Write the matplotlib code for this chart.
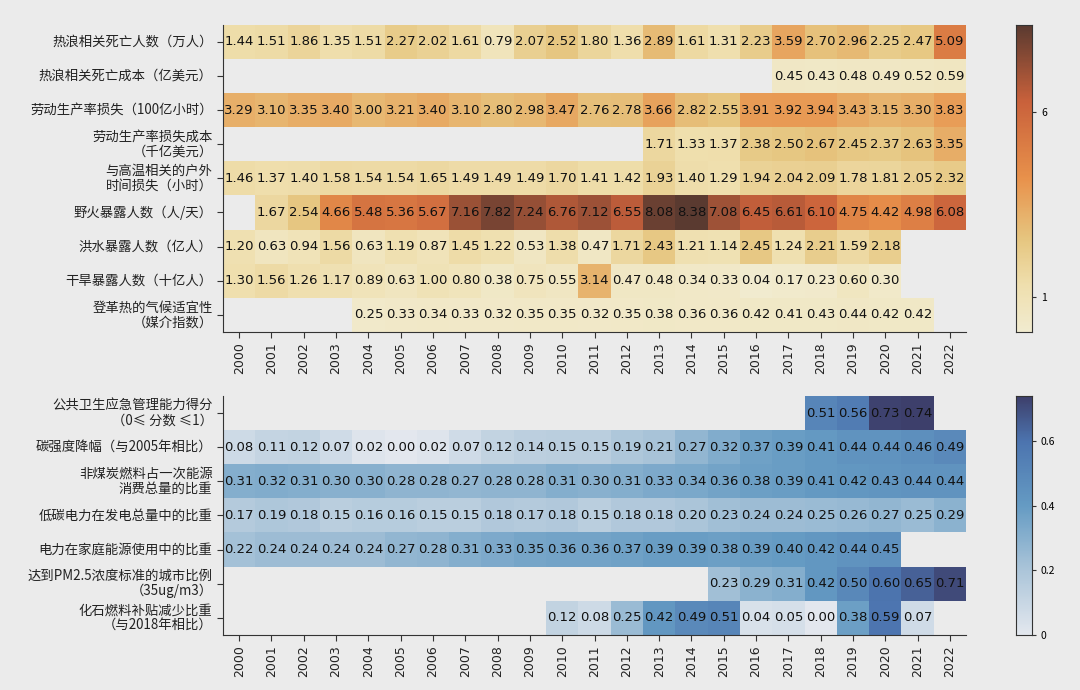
import matplotlib
matplotlib.use('Agg')
import matplotlib.pyplot as plt
import numpy as np
import seaborn as sns
from matplotlib.colors import LinearSegmentedColormap

nan = np.nan
YEARS = list(range(2000, 2023))

HEAT_LABELS = [
    '热浪相关死亡人数（万人）',
    '热浪相关死亡成本（亿美元）',
    '劳动生产率损失（100亿小时）',
    '劳动生产率损失成本\n（千亿美元）',
    '与高温相关的户外\n时间损失（小时）',
    '野火暴露人数（人/天）',
    '洪水暴露人数（亿人）',
    '干旱暴露人数（十亿人）',
    '登革热的气候适宜性\n（媒介指数）',
]
heat_deaths = [1.44, 1.51, 1.86, 1.35, 1.51, 2.27, 2.02, 1.61, 0.79, 2.07, 2.52, 1.80,
               1.36, 2.89, 1.61, 1.31, 2.23, 3.59, 2.70, 2.96, 2.25, 2.47, 5.09]
heat_death_cost = [nan] * 17 + [0.45, 0.43, 0.48, 0.49, 0.52, 0.59]
labour_loss = [3.29, 3.10, 3.35, 3.40, 3.00, 3.21, 3.40, 3.10, 2.80, 2.98, 3.47, 2.76,
               2.78, 3.66, 2.82, 2.55, 3.91, 3.92, 3.94, 3.43, 3.15, 3.30, 3.83]
labour_cost = [nan] * 13 + [1.71, 1.33, 1.37, 2.38, 2.50, 2.67, 2.45, 2.37, 2.63, 3.35]
outdoor_loss = [1.46, 1.37, 1.40, 1.58, 1.54, 1.54, 1.65, 1.49, 1.49, 1.49, 1.70, 1.41,
                1.42, 1.93, 1.40, 1.29, 1.94, 2.04, 2.09, 1.78, 1.81, 2.05, 2.32]
wildfire = [nan, 1.67, 2.54, 4.66, 5.48, 5.36, 5.67, 7.16, 7.82, 7.24, 6.76, 7.12,
            6.55, 8.08, 8.38, 7.08, 6.45, 6.61, 6.10, 4.75, 4.42, 4.98, 6.08]
flood = [1.20, 0.63, 0.94, 1.56, 0.63, 1.19, 0.87, 1.45, 1.22, 0.53, 1.38, 0.47,
         1.71, 2.43, 1.21, 1.14, 2.45, 1.24, 2.21, 1.59, 2.18, nan, nan]
drought = [1.30, 1.56, 1.26, 1.17, 0.89, 0.63, 1.00, 0.80, 0.38, 0.75, 0.55, 3.14,
           0.47, 0.48, 0.34, 0.33, 0.04, 0.17, 0.23, 0.60, 0.30, nan, nan]
dengue = [nan] * 4 + [0.25, 0.33, 0.34, 0.33, 0.32, 0.35, 0.35, 0.32, 0.35, 0.38,
                      0.36, 0.36, 0.42, 0.41, 0.43, 0.44, 0.42, 0.42, nan]

ACT_LABELS = [
    '公共卫生应急管理能力得分\n（0≤ 分数 ≤1）',
    '碳强度降幅（与2005年相比）',
    '非煤炭燃料占一次能源\n消费总量的比重',
    '低碳电力在发电总量中的比重',
    '电力在家庭能源使用中的比重',
    '达到PM2.5浓度标准的城市比例\n（35ug/m3）',
    '化石燃料补贴减少比重\n（与2018年相比）',
]
health_score = [nan] * 18 + [0.51, 0.56, 0.73, 0.74, nan]
carbon_int = [0.08, 0.11, 0.12, 0.07, 0.02, 0.00, 0.02, 0.07, 0.12, 0.14, 0.15, 0.15,
              0.19, 0.21, 0.27, 0.32, 0.37, 0.39, 0.41, 0.44, 0.44, 0.46, 0.49]
non_coal = [0.31, 0.32, 0.31, 0.30, 0.30, 0.28, 0.28, 0.27, 0.28, 0.28, 0.31, 0.30,
            0.31, 0.33, 0.34, 0.36, 0.38, 0.39, 0.41, 0.42, 0.43, 0.44, 0.44]
low_carbon = [0.17, 0.19, 0.18, 0.15, 0.16, 0.16, 0.15, 0.15, 0.18, 0.17, 0.18, 0.15,
              0.18, 0.18, 0.20, 0.23, 0.24, 0.24, 0.25, 0.26, 0.27, 0.25, 0.29]
household_elec = [0.22, 0.24, 0.24, 0.24, 0.24, 0.27, 0.28, 0.31, 0.33, 0.35, 0.36, 0.36,
                  0.37, 0.39, 0.39, 0.38, 0.39, 0.40, 0.42, 0.44, 0.45, nan, nan]
pm25 = [nan] * 15 + [0.23, 0.29, 0.31, 0.42, 0.50, 0.60, 0.65, 0.71]
fossil_subsidy = [nan] * 10 + [0.12, 0.08, 0.25, 0.42, 0.49, 0.51, 0.04, 0.05, 0.00,
                               0.38, 0.59, 0.07, nan]

BG = '#ebebeb'
plt.rcParams['font.family'] = ['Noto Sans CJK SC', 'DejaVu Sans']
plt.rcParams['axes.unicode_minus'] = False

cmap_heat = LinearSegmentedColormap.from_list('heat', [
    (0.0, '#f1ebcf'), (0.15, '#efdfae'), (0.3, '#e6c680'), (0.5, '#e8914b'),
    (0.75, '#c9613b'), (1.0, '#5a3a30')])
cmap_act = LinearSegmentedColormap.from_list('act', [
    (0.0, '#e3e7ee'), (0.27, '#abc5d9'), (0.54, '#659bc3'),
    (0.81, '#4c74af'), (1.0, '#3d3f6b')])


def draw(ax, cax, rows, labels, cmap, cticks):
    data = np.array(rows, dtype=float)
    sns.heatmap(data, ax=ax, cbar_ax=cax, cmap=cmap, annot=True, fmt='.2f',
                annot_kws={'color': '#111111', 'fontsize': 9.5,
                           'family': 'DejaVu Sans'},
                xticklabels=YEARS, yticklabels=labels,
                vmin=np.nanmin(data), vmax=np.nanmax(data))
    ax.set_facecolor(BG)
    for s in ['left', 'bottom']:
        ax.spines[s].set_visible(True)
        ax.spines[s].set_color('#333333')
    ax.tick_params(axis='both', length=4, color='#333333', labelcolor='#222222')
    ax.set_yticklabels(labels, rotation=0, fontsize=9.6, ha='right',
                       linespacing=1.05)
    ax.set_xticklabels(YEARS, rotation=90, fontsize=9,
                       family=['DejaVu Sans'])
    cax.set_yticks(cticks)
    cax.set_yticklabels([f'{t:g}' for t in cticks], fontsize=7.5)
    cax.tick_params(length=3, color='#333333')
    for s in cax.spines.values():
        s.set_visible(True)
        s.set_color('#333333')


fig = plt.figure(figsize=(10.8, 6.9), dpi=100, facecolor=BG)
ax1 = fig.add_axes([0.2065, 0.519, 0.688, 0.445])
cax1 = fig.add_axes([0.9407, 0.519, 0.0148, 0.445])
ax2 = fig.add_axes([0.2065, 0.080, 0.688, 0.346])
cax2 = fig.add_axes([0.9407, 0.080, 0.0148, 0.346])

draw(ax1, cax1,
     [heat_deaths, heat_death_cost, labour_loss, labour_cost, outdoor_loss,
      wildfire, flood, drought, dengue],
     HEAT_LABELS, cmap_heat, [1, 6])
draw(ax2, cax2,
     [health_score, carbon_int, non_coal, low_carbon, household_elec, pm25,
      fossil_subsidy],
     ACT_LABELS, cmap_act, [0, 0.2, 0.4, 0.6])
cax2.set_ylim(0, 0.74)

fig.savefig('out.png', dpi=100, facecolor=BG)
